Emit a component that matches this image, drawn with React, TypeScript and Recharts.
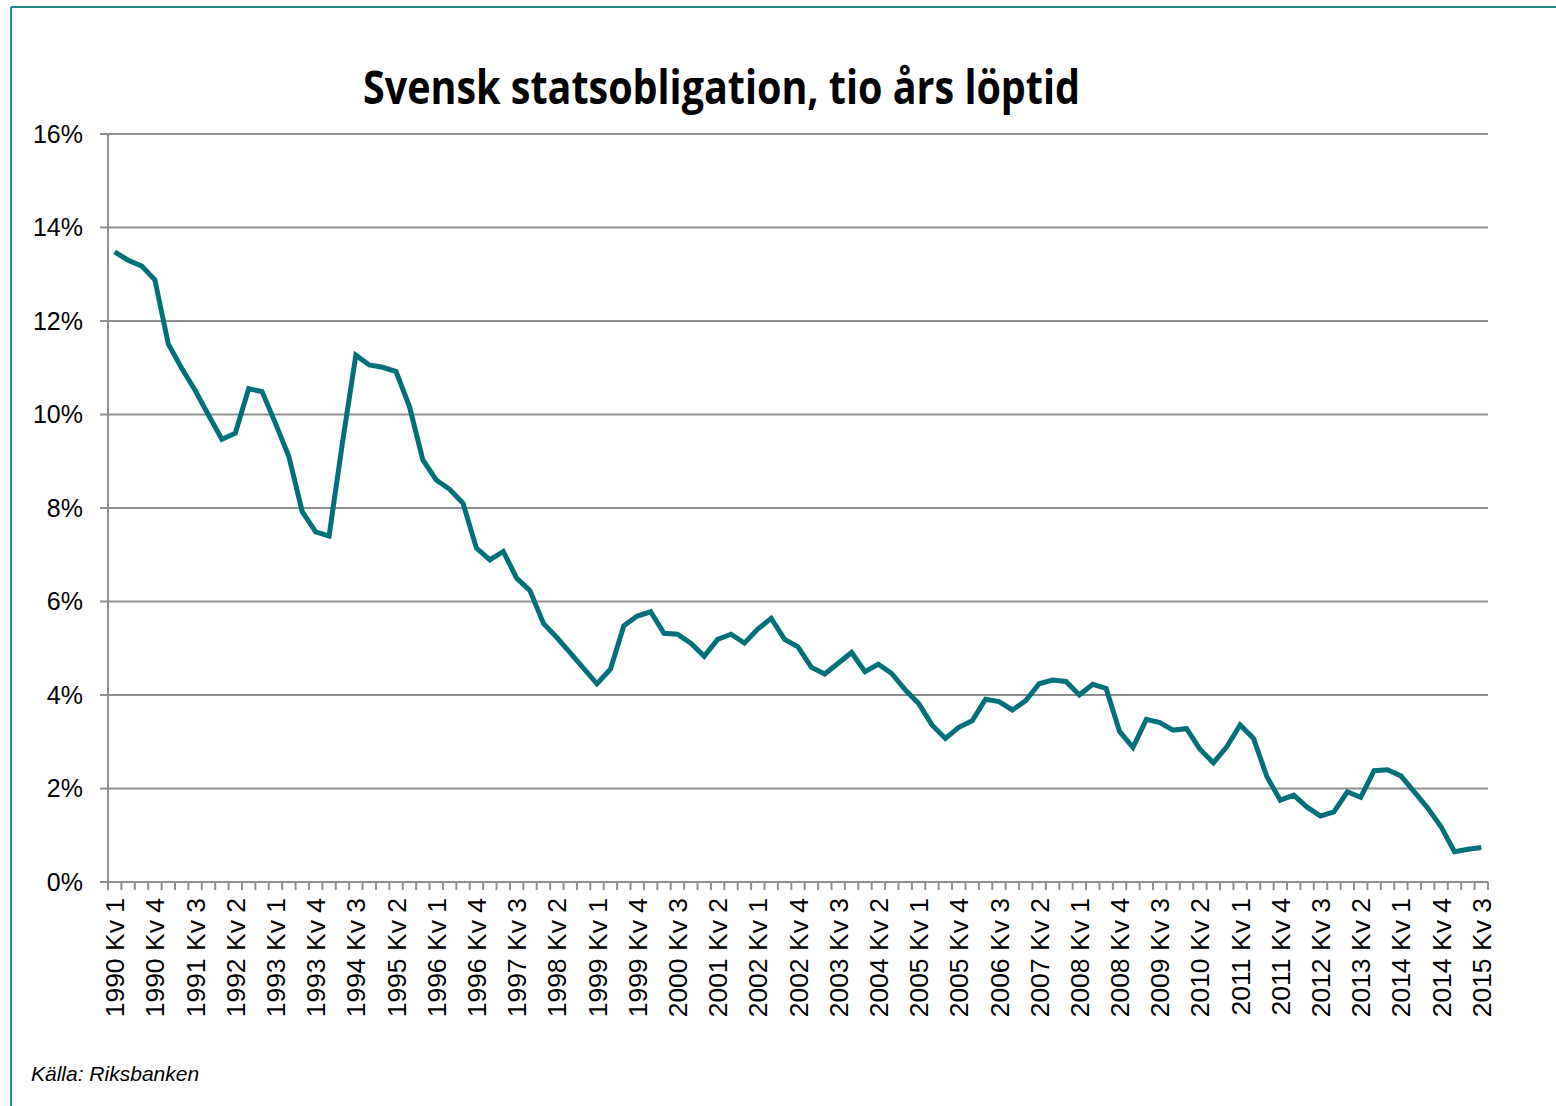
import React from 'react';
import { LineChart, Line, XAxis, YAxis, CartesianGrid } from 'recharts';

// Kvartal 1990 Kv 1 - 2015 Kv 3
const years = [
  1990, 1991, 1992, 1993, 1994, 1995, 1996, 1997, 1998, 1999, 2000, 2001, 2002,
  2003, 2004, 2005, 2006, 2007, 2008, 2009, 2010, 2011, 2012, 2013, 2014, 2015,
];
const quarters = ['Kv 1', 'Kv 2', 'Kv 3', 'Kv 4'];
const periods = years.flatMap((y) => quarters.map((q) => `${y} ${q}`)).slice(0, 103);

// Ränta, procent
const yields = [
  13.48, 13.3, 13.18, 12.88, 11.51, 10.99, 10.52, 9.99, 9.47, 9.6,
  10.55, 10.49, 9.81, 9.1, 7.92, 7.49, 7.4, 9.4, 11.27, 11.06,
  11.01, 10.92, 10.17, 9.03, 8.6, 8.4, 8.1, 7.14, 6.89, 7.07,
  6.5, 6.23, 5.53, 5.23, 4.9, 4.57, 4.24, 4.55, 5.48, 5.69,
  5.78, 5.32, 5.3, 5.11, 4.83, 5.19, 5.3, 5.11, 5.41, 5.64,
  5.19, 5.03, 4.59, 4.45, 4.68, 4.91, 4.5, 4.66, 4.46, 4.11,
  3.82, 3.36, 3.07, 3.31, 3.45, 3.91, 3.86, 3.68, 3.88, 4.24,
  4.32, 4.29, 4.0, 4.23, 4.14, 3.22, 2.88, 3.48, 3.41, 3.25,
  3.28, 2.84, 2.55, 2.89, 3.36, 3.07, 2.25, 1.75, 1.86, 1.6,
  1.41, 1.5, 1.93, 1.81, 2.38, 2.4, 2.27, 1.93, 1.58, 1.18,
  0.65, 0.7, 0.74,
];

const yTicks = [0, 2, 4, 6, 8, 10, 12, 14, 16];

const data = periods.map((period, i) => ({ period, value: yields[i] }));

const W = 1556;
const H = 1106;
const PLOT_LEFT = 108;
const PLOT_RIGHT = 1488;
const STEP = (PLOT_RIGHT - PLOT_LEFT) / periods.length;
const GRAY = '#8f8f8f';
const TEAL = '#00707a';
const FONT = '"Liberation Sans", Arial, sans-serif';

function QuarterTick(props: any) {
  const { x, y, payload, index } = props;
  const axisY = y - 16;
  const showLabel = index % 3 === 0;
  return (
    <g>
      <line x1={x - STEP / 2} x2={x - STEP / 2} y1={axisY} y2={axisY + 8} stroke={GRAY} strokeWidth={2} />
      {index === periods.length - 1 && (
        <line x1={x + STEP / 2} x2={x + STEP / 2} y1={axisY} y2={axisY + 8} stroke={GRAY} strokeWidth={2} />
      )}
      {showLabel && (
        <text
          x={x}
          y={y}
          dy="0.36em"
          textAnchor="end"
          transform={`rotate(-90, ${x}, ${y})`}
          fontSize={26.5}
          fontFamily={FONT}
          fill="#000"
        >
          {payload.value}
        </text>
      )}
    </g>
  );
}

export default function App() {
  return (
    <div style={{ position: 'absolute', left: 0, top: 0, width: W, height: H, overflow: 'hidden', background: '#fff' }}>
      <div style={{ position: 'absolute', left: 0, top: 0 }}>
        <LineChart width={W} height={H} data={data} margin={{ top: 134, right: W - PLOT_RIGHT, left: 0, bottom: 74 }}>
          <CartesianGrid vertical={false} stroke={GRAY} strokeWidth={2} />
          <XAxis
            dataKey="period"
            interval={0}
            height={150}
            padding={{ left: STEP / 2, right: STEP / 2 }}
            axisLine={{ stroke: GRAY, strokeWidth: 2 }}
            tickLine={false}
            tickSize={8}
            tickMargin={8}
            tick={<QuarterTick />}
          />
          <YAxis
            width={PLOT_LEFT}
            domain={[0, 16]}
            ticks={yTicks}
            interval={0}
            tickFormatter={(v) => `${v}%`}
            axisLine={{ stroke: GRAY, strokeWidth: 2 }}
            tickLine={{ stroke: GRAY, strokeWidth: 2 }}
            tickSize={8}
            tickMargin={17}
            tick={{ fontSize: 25, fontFamily: FONT, fill: '#000' }}
          />
          <Line
            type="linear"
            dataKey="value"
            stroke={TEAL}
            strokeWidth={5}
            dot={false}
            isAnimationActive={false}
          />
        </LineChart>
      </div>
      <svg width={W} height={H} style={{ position: 'absolute', left: 0, top: 0, pointerEvents: 'none' }}>
        <line x1={11} x2={W} y1={7} y2={7} stroke="#1f8a8c" strokeWidth={2} />
        <line x1={11} x2={11} y1={7} y2={H} stroke="#1f8a8c" strokeWidth={2} />
        <text
          x={363}
          y={104}
          textLength={717}
          lengthAdjust="spacingAndGlyphs"
          fontSize={46}
          fontWeight={700}
          fontFamily='"Open Sans", sans-serif'
          fill="#000"
        >
          Svensk statsobligation, tio års löptid
        </text>
        <text x={31} y={1081} fontSize={21} fontStyle="italic" fontFamily={FONT} fill="#000">
          Källa: Riksbanken
        </text>
      </svg>
    </div>
  );
}
